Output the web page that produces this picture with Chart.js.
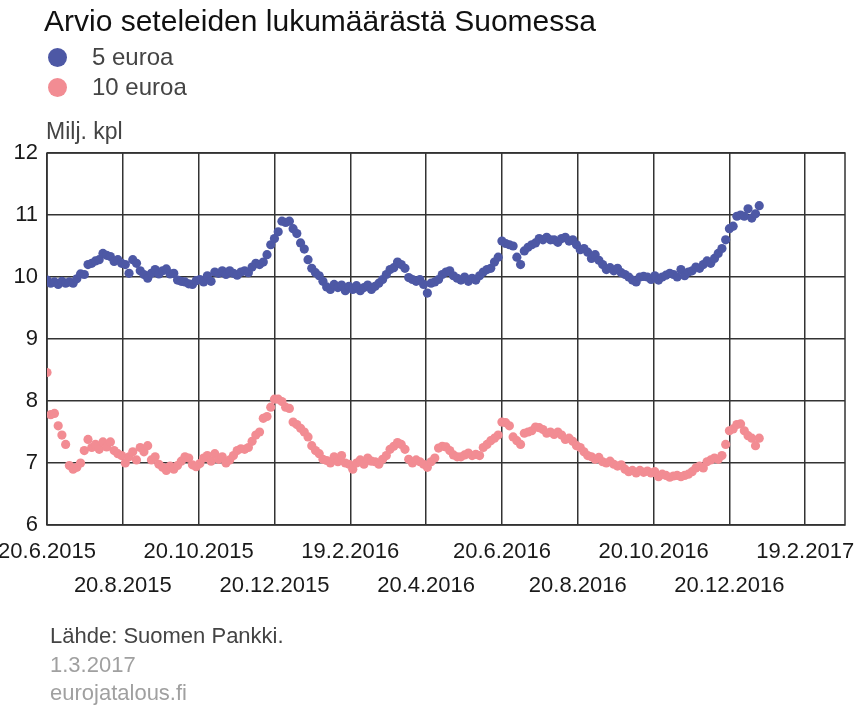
<!DOCTYPE html>
<html lang="fi">
<head>
    <meta charset="UTF-8">
    <title>Arvio seteleiden lukumäärästä Suomessa</title>
    <script src="https://cdn.jsdelivr.net/npm/chart.js"></script>
    <style>
        body {
            margin: 0;
            background: #fff;
            font-family: "Liberation Sans", Arial, sans-serif;
        }
        .wrap {
            position: relative;
            width: 854px;
            height: 706px;
        }
        .wrap canvas {
            position: absolute;
            left: 0;
            top: 0;
        }
        .txt {
            position: absolute;
            white-space: nowrap;
        }
        .title {
            left: 44px;
            top: 6px;
            font-size: 30px;
            line-height: 30px;
            color: #111;
        }
        .legend-item {
            font-size: 24px;
            line-height: 24px;
            color: #444;
            left: 92px;
        }
        .dot {
            position: absolute;
            width: 19px;
            height: 19px;
            border-radius: 50%;
            left: 48px;
        }
        .unit {
            left: 46px;
            top: 120px;
            font-size: 23px;
            line-height: 23px;
            color: #444;
        }
        .source {
            left: 50px;
            font-size: 22px;
            line-height: 22px;
        }
    </style>
</head>
<body>
    <div class="wrap">
        <canvas id="chart" width="854" height="706"></canvas>
        <div class="txt title">Arvio seteleiden lukumäärästä Suomessa</div>
        <span class="dot" style="top:48px; background:#4d58a5;"></span>
        <div class="txt legend-item" style="top:45px;">5 euroa</div>
        <span class="dot" style="top:78px; background:#f28c93;"></span>
        <div class="txt legend-item" style="top:75px;">10 euroa</div>
        <div class="txt unit">Milj. kpl</div>
        <div class="txt source" style="top:625px; color:#444;">Lähde: Suomen Pankki.</div>
        <div class="txt source" style="top:654px; color:#a0a0a0;">1.3.2017</div>
        <div class="txt source" style="top:682px; color:#a0a0a0;">eurojatalous.fi</div>
    </div>

    <script>
        // days counted from 20.6.2015, one reading every 3 days
        const dayStep = 3;

        // 5 euro notes, millions
        const fiveEuro = [
            9.95, 9.9, 9.92, 9.88, 9.93, 9.9, 9.92, 9.9, 9.97, 10.05,
            10.04, 10.2, 10.22, 10.26, 10.28, 10.38, 10.35, 10.33, 10.25, 10.28,
            10.22, 10.2, 10.06, 10.28, 10.22, 10.1, 10.04, 9.98, 10.06, 10.12,
            10.05, 10.1, 10.13, 10.05, 10.06, 9.95, 9.93, 9.92, 9.89, 9.88,
            9.94, 9.96, 9.92, 10.02, 9.93, 10.08, 10.06, 10.1, 10.04, 10.1,
            10.06, 10.03, 10.08, 10.1, 10.07, 10.16, 10.22, 10.2, 10.24, 10.36,
            10.52, 10.62, 10.73, 10.9, 10.88, 10.9, 10.78, 10.7, 10.55, 10.45,
            10.28, 10.14, 10.07, 10.02, 9.93, 9.84, 9.8, 9.88, 9.83, 9.87,
            9.78, 9.85, 9.8, 9.86, 9.78, 9.83, 9.87, 9.8, 9.85, 9.9,
            9.96, 10.04, 10.12, 10.15, 10.24, 10.2, 10.14, 9.99, 9.96, 9.93,
            9.96, 9.88, 9.74, 9.9, 9.92, 9.96, 10.04, 10.08, 10.1, 10.02,
            9.98, 9.95, 10.0, 9.93, 9.98, 9.95, 10.02, 10.08, 10.12, 10.14,
            10.24, 10.32, 10.58, 10.54, 10.52, 10.5, 10.32, 10.2, 10.42, 10.48,
            10.52, 10.55, 10.62, 10.6, 10.64, 10.6, 10.6, 10.56, 10.62, 10.64,
            10.58, 10.6, 10.52, 10.44, 10.46, 10.4, 10.3, 10.36, 10.27, 10.2,
            10.12, 10.15, 10.1, 10.14, 10.07, 10.04, 10.0, 9.95, 9.92, 10.0,
            10.01, 10.0, 9.96, 10.02, 9.95, 10.0, 10.03, 10.06, 10.04, 10.0,
            10.12, 10.02, 10.08, 10.1, 10.16, 10.14, 10.2, 10.26, 10.22, 10.3,
            10.38, 10.46, 10.6, 10.78, 10.82, 10.98, 11.0, 10.98, 11.1, 10.95,
            11.02, 11.15
        ];

        // 10 euro notes, millions
        const tenEuro = [
            8.46, 7.78, 7.8, 7.6, 7.45, 7.3, 6.96, 6.9, 6.93, 7.0,
            7.2, 7.38, 7.25, 7.3, 7.22, 7.34, 7.26, 7.34, 7.2, 7.15,
            7.12, 7.0, 7.1, 7.18, 7.05, 7.25, 7.18, 7.28, 7.05, 7.1,
            6.98, 6.93, 6.88, 6.95, 6.9, 6.96, 7.03, 7.1, 7.08, 6.97,
            6.94, 6.99, 7.08, 7.12, 7.03, 7.15, 7.06, 7.1, 7.0, 7.05,
            7.12, 7.2, 7.23, 7.22, 7.25, 7.35, 7.45, 7.5, 7.72, 7.75,
            7.9, 8.03, 8.03, 7.99, 7.9, 7.88, 7.66, 7.62, 7.56, 7.5,
            7.42, 7.28, 7.2, 7.15, 7.06, 7.04, 7.0, 7.1, 7.02, 7.12,
            7.0, 6.98, 6.9, 7.0, 7.05, 6.98, 7.08, 7.03, 7.02, 6.98,
            7.06, 7.12, 7.22, 7.27, 7.33, 7.3, 7.22, 7.06, 7.0, 7.05,
            7.02, 6.98, 6.93, 7.02, 7.08, 7.24, 7.27, 7.26, 7.2, 7.13,
            7.1, 7.1, 7.13, 7.16, 7.12, 7.14, 7.12, 7.25, 7.3, 7.36,
            7.4, 7.45, 7.66, 7.65, 7.6, 7.42, 7.36, 7.3, 7.48, 7.5,
            7.52, 7.58, 7.57, 7.54, 7.48, 7.5, 7.46, 7.5, 7.45, 7.38,
            7.4, 7.35, 7.28, 7.25, 7.18, 7.12, 7.1, 7.06, 7.09, 7.02,
            7.0, 7.03, 6.98, 6.95, 6.97, 6.9, 6.86, 6.88, 6.84, 6.88,
            6.85, 6.87, 6.84, 6.86, 6.78, 6.82, 6.8, 6.77, 6.79, 6.8,
            6.78, 6.8, 6.82, 6.86, 6.92, 6.95, 6.92, 7.02, 7.05, 7.08,
            7.06, 7.12, 7.3, 7.52, 7.55, 7.62, 7.63, 7.52, 7.44, 7.4,
            7.28, 7.4
        ];

        // x axis ticks (days from 20.6.2015) and their labels
        const tickDays = [0, 61, 122, 183, 244, 305, 366, 427, 488, 549, 610];
        const tickLabels = ['20.6.2015', '20.8.2015', '20.10.2015', '20.12.2015', '19.2.2016',
            '20.4.2016', '20.6.2016', '20.8.2016', '20.10.2016', '20.12.2016', '19.2.2017'];

        const yTicks = [6, 7, 8, 9, 10, 11, 12];

        const toPoints = arr => arr.map((v, i) => ({ x: i * dayStep, y: v }));

        const gridColor = '#333';

        // draws the box round the plot area
        const frame = {
            id: 'frame',
            beforeDatasetsDraw(chart) {
                const { ctx, chartArea } = chart;
                ctx.save();
                ctx.strokeStyle = gridColor;
                ctx.lineWidth = 1.5;
                ctx.strokeRect(chartArea.left, chartArea.top,
                    chartArea.right - chartArea.left, chartArea.bottom - chartArea.top);
                ctx.restore();
            }
        };

        new Chart(document.getElementById('chart'), {
            type: 'scatter',
            data: {
                datasets: [{
                    label: '10 euroa',
                    data: toPoints(tenEuro),
                    backgroundColor: '#f28c93',
                    borderWidth: 0,
                    pointRadius: 4.6,
                }, {
                    label: '5 euroa',
                    data: toPoints(fiveEuro),
                    backgroundColor: '#4d58a5',
                    borderWidth: 0,
                    pointRadius: 4.6,
                }]
            },
            options: {
                responsive: false,
                animation: false,
                layout: {
                    padding: { left: 0, top: 153, right: 9, bottom: 0 }
                },
                plugins: {
                    legend: { display: false },
                    tooltip: { enabled: false },
                },
                scales: {
                    x: {
                        type: 'linear',
                        min: 0,
                        max: 642,
                        afterBuildTicks(scale) {
                            scale.ticks = tickDays.map(v => ({ value: v }));
                        },
                        afterFit(scale) {
                            scale.height = 181;
                            scale.paddingLeft = 0;
                            scale.paddingRight = 0;
                        },
                        grid: {
                            color: gridColor,
                            lineWidth: 1.5,
                            drawTicks: false,
                        },
                        border: { display: false },
                        ticks: {
                            autoSkip: false,
                            maxRotation: 0,
                            padding: 10,
                            color: '#1a1a1a',
                            font: { family: '"Liberation Sans", Arial, sans-serif', size: 22, lineHeight: 1.55 },
                            callback: (value, index) => {
                                const label = tickLabels[index];
                                return index % 2 === 0 ? [label, ''] : ['', label];
                            }
                        }
                    },
                    y: {
                        min: 6,
                        max: 12,
                        afterBuildTicks(scale) {
                            scale.ticks = yTicks.map(v => ({ value: v }));
                        },
                        afterFit(scale) {
                            scale.width = 47;
                        },
                        grid: {
                            color: gridColor,
                            lineWidth: 1.5,
                            drawTicks: false,
                        },
                        border: { display: false },
                        ticks: {
                            padding: 9,
                            color: '#1a1a1a',
                            font: { family: '"Liberation Sans", Arial, sans-serif', size: 22 },
                        }
                    }
                }
            },
            plugins: [frame]
        });
    </script>
</body>
</html>
